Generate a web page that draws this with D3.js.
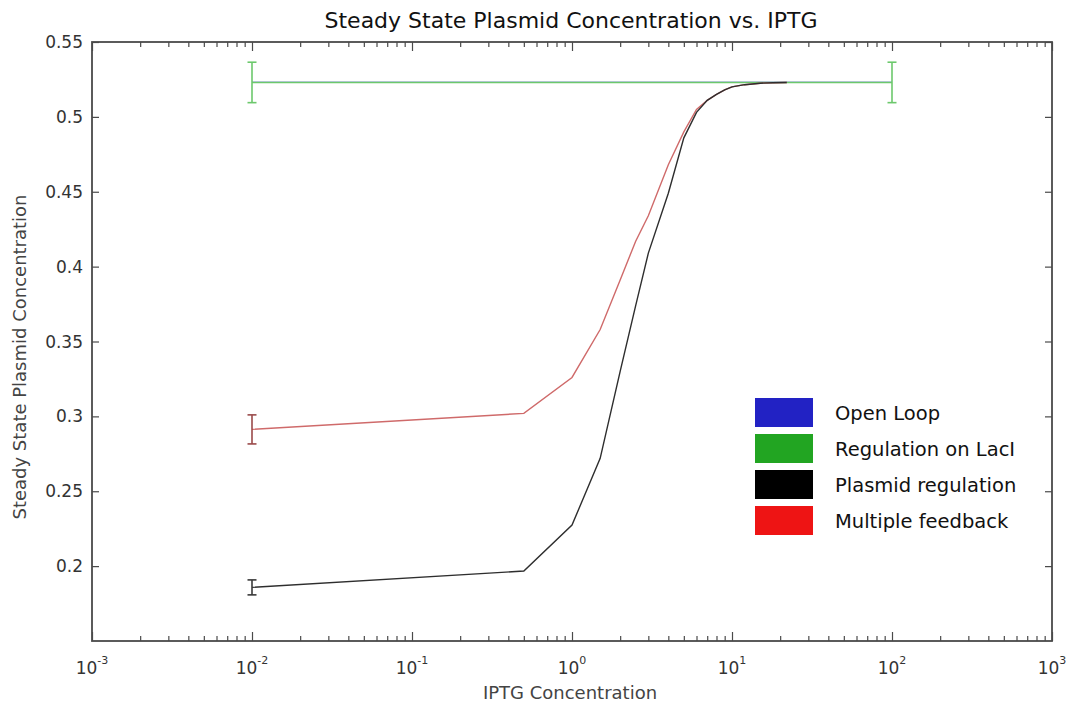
<!DOCTYPE html>
<html>
<head>
<meta charset="utf-8">
<script src="https://cdn.jsdelivr.net/npm/d3@7"></script>
<style>
  html, body { margin: 0; padding: 0; background: #fff; }
  svg { display: block; }
</style>
</head>
<body>
<svg id="chart" width="1067" height="705"></svg>
<script>
// ---- data ----
const iptg = [0.01, 0.5, 1, 1.5, 2, 2.5, 3, 4, 5, 6, 7, 8, 9, 10, 12, 15, 18, 22];
const plasmidRegulation = [0.1858, 0.1967, 0.2274, 0.272, 0.330, 0.374, 0.409, 0.449, 0.486, 0.503, 0.511, 0.515, 0.518, 0.520, 0.5215, 0.5225, 0.5228, 0.523];
const multipleFeedback  = [0.2913, 0.302, 0.326, 0.358, 0.391, 0.417, 0.434, 0.468, 0.490, 0.505, 0.511, 0.515, 0.518, 0.520, 0.5215, 0.5225, 0.5228, 0.523];
const lacIx = [0.01, 100];
const regulationLacI = [0.523, 0.523];
const openLoop = [0.523, 0.523];
const errLacI = [0.0135, 0.0135];
const errPlasmid = [0.005];       // at first point
const errMultiple = [0.0097];     // at first point
const yTicks = [0.2, 0.25, 0.3, 0.35, 0.4, 0.45, 0.5, 0.55];
const yTickLabels = ["0.2", "0.25", "0.3", "0.35", "0.4", "0.45", "0.5", "0.55"];
const xDecades = [-3, -2, -1, 0, 1, 2, 3];
const legendLabels = ["Open Loop", "Regulation on LacI", "Plasmid regulation", "Multiple feedback"];
const legendColors = ["#2222c4", "#22a522", "#000000", "#ee1414"];
const titleText = "Steady State Plasmid Concentration vs. IPTG";
const xLabelText = "IPTG Concentration";
const yLabelText = "Steady State Plasmid Concentration";

// ---- layout ----
const L = 92, R = 1052, T = 42, B = 641;
const svg = d3.select("#chart");
const x = d3.scaleLog().domain([1e-3, 1e3]).range([L, R]);
const y = d3.scaleLinear().domain([0.15, 0.55]).range([B, T]);

const axisColor = "#4a4a4a";
const textColor = "#333";
const FONT = "DejaVu Sans, Verdana, sans-serif";

// ticks
const minorX = [];
for (let d = -3; d < 3; d++) for (let k = 2; k <= 9; k++) minorX.push(k * Math.pow(10, d));
const majorX = xDecades.map(d => Math.pow(10, d));

const axB = d3.axisBottom(x).tickValues(majorX).tickSize(-9).tickFormat("");
const axT = d3.axisTop(x).tickValues(majorX).tickSize(-9).tickFormat("");
const axBm = d3.axisBottom(x).tickValues(minorX).tickSize(-5).tickFormat("");
const axTm = d3.axisTop(x).tickValues(minorX).tickSize(-5).tickFormat("");
const axL = d3.axisLeft(y).tickValues(yTicks).tickSize(-7).tickFormat("");
const axR = d3.axisRight(y).tickValues(yTicks).tickSize(-7).tickFormat("");

function styleAxis(g) {
  g.selectAll("path").attr("stroke", "none");
  g.selectAll("line").attr("stroke", axisColor).attr("stroke-width", 1.2);
}
svg.append("g").attr("transform", `translate(0,${B})`).call(axB).call(styleAxis);
svg.append("g").attr("transform", `translate(0,${B})`).call(axBm).call(styleAxis);
svg.append("g").attr("transform", `translate(0,${T})`).call(axT).call(styleAxis);
svg.append("g").attr("transform", `translate(0,${T})`).call(axTm).call(styleAxis);
svg.append("g").attr("transform", `translate(${L},0)`).call(axL).call(styleAxis);
svg.append("g").attr("transform", `translate(${R},0)`).call(axR).call(styleAxis);

// frame
svg.append("rect").attr("x", L).attr("y", T).attr("width", R - L).attr("height", B - T)
  .attr("fill", "none").attr("stroke", axisColor).attr("stroke-width", 1.8);

// y tick labels
svg.append("g").selectAll("text").data(yTicks).join("text")
  .attr("x", L - 9).attr("y", d => y(d)).attr("dy", "0.36em")
  .attr("text-anchor", "end")
  .attr("font-family", FONT).attr("font-size", 17)
  .attr("fill", textColor)
  .text((d, i) => yTickLabels[i]);

// x tick labels 10^n
const xl = svg.append("g").selectAll("text").data(xDecades).join("text")
  .attr("x", d => x(Math.pow(10, d))).attr("y", 674)
  .attr("text-anchor", "middle")
  .attr("font-family", FONT).attr("font-size", 17)
  .attr("fill", textColor);
xl.append("tspan").text("10");
xl.append("tspan").attr("dy", -10).attr("font-size", 11).text(d => String(d));

// title & axis labels
svg.append("text").attr("x", 571).attr("y", 28).attr("text-anchor", "middle")
  .attr("font-family", FONT).attr("font-size", 22)
  .attr("fill", "#111").text(titleText);
svg.append("text").attr("x", 570).attr("y", 699).attr("text-anchor", "middle")
  .attr("font-family", FONT).attr("font-size", 18)
  .attr("fill", "#444").text(xLabelText);
svg.append("text").attr("transform", `translate(26,357) rotate(-90)`).attr("text-anchor", "middle")
  .attr("font-family", FONT).attr("font-size", 18)
  .attr("fill", "#444").text(yLabelText);

// lines
const line = d3.line().x(d => x(d[0])).y(d => y(d[1]));
function drawSeries(xs, ys, color, w) {
  svg.append("path").datum(xs.map((v, i) => [v, ys[i]]))
    .attr("d", line).attr("fill", "none").attr("stroke", color).attr("stroke-width", w);
}
function errBar(xv, yv, e, color) {
  const cx = x(xv), cw = 4.5;
  const g = svg.append("g").attr("stroke", color).attr("stroke-width", 1.6);
  g.append("line").attr("x1", cx).attr("x2", cx).attr("y1", y(yv - e)).attr("y2", y(yv + e));
  g.append("line").attr("x1", cx - cw).attr("x2", cx + cw).attr("y1", y(yv - e)).attr("y2", y(yv - e));
  g.append("line").attr("x1", cx - cw).attr("x2", cx + cw).attr("y1", y(yv + e)).attr("y2", y(yv + e));
}
drawSeries(lacIx, openLoop, "#2222c4", 1.3);
drawSeries(lacIx, regulationLacI, "#6cc86c", 1.6);
lacIx.forEach((v, i) => errBar(v, regulationLacI[i], errLacI[i], "#6cc86c"));
drawSeries(iptg, multipleFeedback, "#cf6a6a", 1.4);
errBar(iptg[0], multipleFeedback[0], errMultiple[0], "#9a4a4a");
drawSeries(iptg, plasmidRegulation, "#2e2e2e", 1.4);
errBar(iptg[0], plasmidRegulation[0], errPlasmid[0], "#3a3a3a");

// legend
const lg = svg.append("g");
legendLabels.forEach((lab, i) => {
  const yy = 398 + i * 36;
  lg.append("rect").attr("x", 755).attr("y", yy).attr("width", 58).attr("height", 29)
    .attr("fill", legendColors[i]);
  lg.append("text").attr("x", 835).attr("y", yy + 15).attr("dy", "0.36em")
    .attr("font-family", FONT).attr("font-size", 19.5)
    .attr("fill", "#111").text(lab);
});
</script>
</body>
</html>
